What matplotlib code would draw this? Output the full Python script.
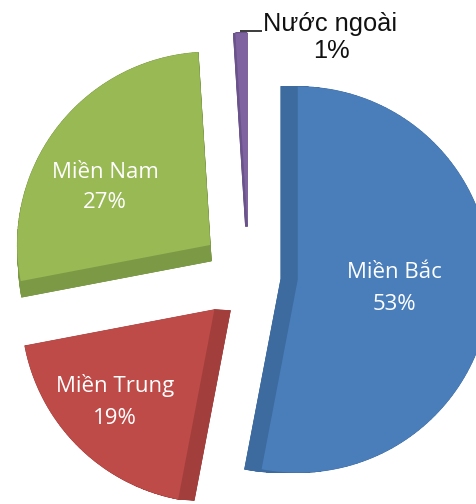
import numpy as np
import matplotlib
matplotlib.use('Agg')
import matplotlib.pyplot as plt
from matplotlib.patches import Polygon

# data
regions = ["Miền Bắc", "Miền Trung", "Miền Nam", "Nước ngoài"]
shares = [53, 19, 27, 1]

# style
front_colors = ["#4A7EBB", "#BE4B48", "#98B954", "#7F63A1"]
side_colors = ["#3D6B9F", "#A23F3D", "#7C9946", "#6A528A"]
side_offsets = [(-17, 0), (16, 1), (1, 16), (-2, 0)]
label_pos = [(394, 278, 310), (115, 392, 424), (105, 178, 208)]

W, H = 477, 504
CENTER = (249, 275)
RADIUS = 193
EXPLODE = 49


def wedge_points(cx, cy, r, t1, t2, n=120):
    # angles in degrees, clockwise from 12 o'clock, screen coords (y down)
    th = np.radians(np.linspace(t1, t2, n))
    xs = np.concatenate([[cx], cx + r * np.sin(th)])
    ys = np.concatenate([[cy], cy - r * np.cos(th)])
    return np.column_stack([xs, ys])


fig = plt.figure(figsize=(W / 100, H / 100), dpi=100)
ax = fig.add_axes([0, 0, 1, 1])
ax.set_xlim(0, W)
ax.set_ylim(H, 0)
ax.axis('off')

total = float(sum(shares))
start = 0.0
for i, v in enumerate(shares):
    span = 360.0 * v / total
    mid = np.radians(start + span / 2)
    cx = CENTER[0] + EXPLODE * np.sin(mid)
    cy = CENTER[1] - EXPLODE * np.cos(mid)
    pts = wedge_points(cx, cy, RADIUS, start, start + span)
    off = np.array(side_offsets[i])

    # side walls: shifted copy plus quads joining every edge
    back = pts + off
    ax.add_patch(Polygon(back, closed=True, fc=side_colors[i], ec=side_colors[i], lw=0.5))
    for j in range(len(pts)):
        a, b = pts[j], pts[(j + 1) % len(pts)]
        quad = [a, b, b + off, a + off]
        ax.add_patch(Polygon(quad, closed=True, fc=side_colors[i], ec=side_colors[i], lw=0.5))
    ax.add_patch(Polygon(pts, closed=True, fc=front_colors[i], ec='none'))
    start += span

# inner labels
inner_font = ['Open Sans', 'DejaVu Sans']
for i, (x, y1, y2) in enumerate(label_pos):
    ax.text(x, y1, regions[i], color='white', fontsize=16, family=inner_font,
            ha='center', va='baseline')
    ax.text(x, y2, "%d%%" % shares[i], color='white', fontsize=16, family=inner_font,
            ha='center', va='baseline')

# outside label with leader
ax.plot([240, 262], [31, 31], color='#1a1a1a', lw=1.2, solid_capstyle='butt')
ax.text(330, 31, regions[3], color='#111111', fontsize=18.3,
        family=['Liberation Sans', 'DejaVu Sans'], ha='center', va='baseline')
ax.text(331, 58, "%d%%" % shares[3], color='#111111', fontsize=18.3,
        family=['Liberation Sans', 'DejaVu Sans'], ha='center', va='baseline')

fig.savefig("out.png", dpi=100)
